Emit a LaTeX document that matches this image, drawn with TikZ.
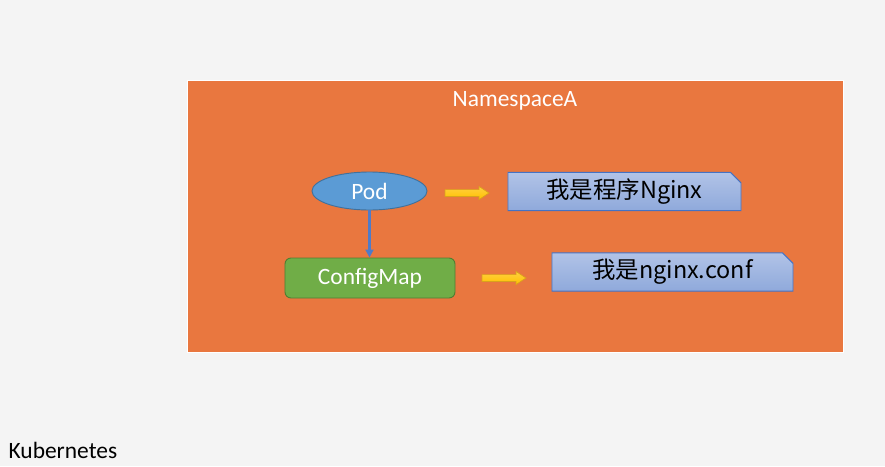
\documentclass[tikz,border=0pt]{standalone}
\usepackage{fontspec}
\setmainfont{Carlito}
\newfontfamily\cjk{Noto Sans CJK SC}
\usetikzlibrary{arrows.meta,positioning,shapes.geometric,shapes.misc}
\definecolor{SlideBack}{HTML}{F4F4F4}
\definecolor{NsOrange}{HTML}{E9773F}
\definecolor{PodBlue}{HTML}{5B9BD5}
\definecolor{PodEdge}{HTML}{41719C}
\definecolor{CmGreen}{HTML}{70AD47}
\definecolor{CmEdge}{HTML}{507E32}
\definecolor{NoteTop}{HTML}{B1C3E7}
\definecolor{NoteBottom}{HTML}{8FA9DB}
\definecolor{NoteEdge}{HTML}{4472C4}
\definecolor{LinkBlue}{HTML}{4F7BC8}
\definecolor{ArrGold}{HTML}{FFC000}
\definecolor{ArrEdge}{HTML}{D9A21B}
\newcommand{\bigtext}{\fontsize{20}{24}\selectfont}
\tikzset{
  nsbox/.style={draw=white,line width=0.8pt,fill=NsOrange,inner sep=0pt},
  podnode/.style={ellipse,draw=PodEdge,line width=0.8pt,fill=PodBlue,text=white,font=\bigtext,inner sep=0pt,minimum width=3.45cm,minimum height=1.14cm},
  cmnode/.style={draw=CmEdge,line width=0.8pt,fill=CmGreen,rounded corners=1.8mm,text=white,font=\bigtext,inner sep=0pt,minimum width=5.1cm,minimum height=1.2cm},
  notebox/.style={chamfered rectangle,chamfered rectangle corners=north east,chamfered rectangle xsep=4.5pt,chamfered rectangle ysep=4.5pt,draw=NoteEdge,line width=0.8pt,top color=NoteTop,bottom color=NoteBottom,font=\bigtext,inner sep=0pt,minimum height=1.15cm},
  podlink/.style={-{Triangle[length=2.4mm,width=2.4mm]},line width=2pt,draw=LinkBlue},
  goldshape/.style={draw=ArrEdge,line width=0.6pt,top color=ArrGold!75!white,bottom color=ArrGold},
  yarrow/.pic={\path[goldshape] (-22,-3.4) -- (12,-3.4) -- (12,-6.6) -- (22,0) -- (12,6.6) -- (12,3.4) -- (-22,3.4) -- cycle;}
}
\begin{document}
\begin{tikzpicture}[x=0.03cm,y=-0.03cm]
\useasboundingbox[fill=SlideBack] (0,0) rectangle (885,466);
% namespace area
\node[nsbox,minimum width=19.68cm,minimum height=8.16cm] (ns) at (515,216) {};
\node[text=white,font=\bigtext] (nsTitle) at (515,101) {NamespaceA};
% pod and its config
\node[podnode] (pod) at (369.5,191) {Pod};
\node[cmnode] (cm) at (370,278) {ConfigMap};
\draw[podlink] (pod.south) -- (pod.south |- cm.north);
% what they hold
\node[notebox,minimum width=6.99cm] (podNote) at (624.5,191.5) {\cjk{我是程序}Nginx};
\node[notebox,minimum width=7.23cm] (cmNote) at (672.5,272) {\cjk{我是}nginx.conf};
\pic at (467,193) {yarrow};
\pic at (504,278) {yarrow};
\node[anchor=base west,font=\bigtext] (k8s) at (4.5,458) {Kubernetes};
\end{tikzpicture}
\end{document}
